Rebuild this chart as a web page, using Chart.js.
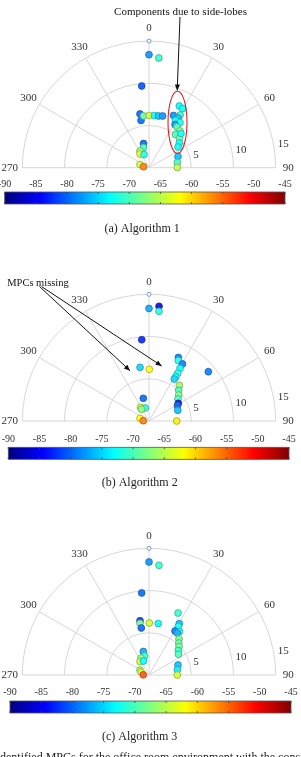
<!DOCTYPE html>
<html><head><meta charset="utf-8">
<script src="https://cdn.jsdelivr.net/npm/chart.js@4.4.0/dist/chart.umd.min.js"></script>
<style>
html,body{margin:0;padding:0;background:#fff;overflow:hidden;width:301px;height:757px;position:relative}
.panel{position:absolute;left:0;width:301px;height:253px}
#note{position:absolute;left:-4px;top:750px;font:12px "Liberation Serif",serif;white-space:nowrap;color:#222}
</style></head><body>
<div class="panel" style="top:0px"><canvas id="c1" width="301" height="253"></canvas></div>
<div class="panel" style="top:253px"><canvas id="c2" width="301" height="253"></canvas></div>
<div class="panel" style="top:507px"><canvas id="c3" width="301" height="253"></canvas></div>
<div id="note">Identified MPCs for the office room environment with the considered</div>
<script>
// ---- data (angle in degrees, range, received power in dBm) ----
const angleTicks = [270, 300, 330, 0, 30, 60, 90];
const rangeTicks = [5, 10, 15];
const colorTicks = [-90, -85, -80, -75, -70, -65, -60, -55, -50, -45];
const refAngle = [0];
const refRange = [15];

const alg1Angle = [0, 5.1, 354.9, 350.5, 350.4, 353.9, 0.3, 6.0, 10.4, 14.8, 347.2, 344.8, 331.7, 326.7, 339.3, 289.6, 280.3,
  26.2, 29.7, 25.1, 30.5, 30.3, 29.3, 34.4, 31.0, 34.5, 40.2, 38.6, 45.8, 43.1, 50.8, 54.5, 68.9, 79.6, 89.6];
const alg1Range = [13.38, 13.04, 9.71, 6.45, 5.67, 6.16, 6.18, 6.21, 6.22, 6.33, 2.94, 2.48, 2.25, 1.94, 1.67, 1.13, 0.66,
  8.14, 8.06, 6.83, 7.24, 6.81, 6.41, 6.49, 5.97, 5.85, 5.69, 5.03, 5.04, 5.54, 4.63, 4.22, 3.68, 3.41, 3.35];
const alg1Power = [-78, -71, -81, -80, -80, -69, -64, -73, -76, -78, -80, -71, -67, -63, -72, -64, -56,
  -73, -73, -78, -71, -76, -73, -72, -78, -70, -67, -70, -68, -73, -73, -73, -76, -70, -65];

const alg2Angle = [0, 5.0, 5.2, 354.9, 350.5, 0.3, 24.8, 25.8, 30.4, 30.5, 31.0, 31.1, 31.1, 50.3, 40.5, 44.0, 48.8, 52.8,
  58.9, 61.5, 69.6, 90, 345.9, 328.2, 344.1, 327.3, 286.7, 273];
const alg2Range = [13.32, 13.63, 13.04, 9.66, 6.44, 6.12, 8.28, 7.96, 7.83, 7.24, 6.59, 6.12, 5.80, 9.13, 5.53, 5.06, 4.67, 4.31,
  4.05, 3.84, 3.63, 3.28, 2.77, 1.91, 1.60, 1.65, 1.11, 0.68];
const alg2Power = [-77, -86, -72, -83, -75, -62, -79, -72, -79, -73, -72, -73, -75, -79, -66, -70, -68, -70,
  -85, -81, -76, -61, -80, -64, -72, -67, -62, -56];

const alg3Angle = [0, 5.2, 354.9, 350.6, 350.1, 350.7, 0.3, 10.2, 25.1, 30.5, 31.1, 30.6, 35.0, 34.0, 39.8, 42.9, 46.5, 50.1,
  54.9, 71.0, 79.6, 90, 346.4, 346.7, 334.8, 326.3, 338.6, 299.1, 290.6, 272];
const alg3Range = [13.38, 13.04, 9.75, 6.51, 6.21, 5.64, 6.16, 6.19, 8.10, 7.07, 6.71, 6.05, 6.29, 5.99, 5.55, 5.17, 4.90, 4.52,
  4.27, 3.63, 3.41, 3.35, 2.86, 2.31, 2.22, 1.92, 1.78, 1.22, 1.01, 0.68];
const alg3Power = [-78, -71, -80, -82, -68, -80, -64, -73, -71, -76, -73, -79, -73, -77, -68, -69, -68, -71,
  -70, -76, -74, -64, -77, -71, -67, -64, -73, -66, -64, -54];

const CB_MIN = colorTicks[0], CB_MAX = colorTicks[colorTicks.length - 1];
const R_MAX = rangeTicks[rangeTicks.length - 1];
const SERIF = '"Liberation Serif", "Times New Roman", serif';

function jet(p) {
  const t = (p - CB_MIN) / (CB_MAX - CB_MIN);
  const f = v => Math.max(0, Math.min(1, v));
  return [f(Math.min(4 * t - 1.5, -4 * t + 4.5)), f(Math.min(4 * t - 0.5, -4 * t + 3.5)), f(Math.min(4 * t + 0.5, -4 * t + 2.5))];
}
function fillCol(p) { const c = jet(p); return 'rgb(' + c.map(v => Math.round(255 * (v * 0.88 + 0.12))).join(',') + ')'; }
function edgeCol(p) { const c = jet(p); return 'rgb(' + c.map(v => Math.round(255 * v * 0.55 + 30)).join(',') + ')'; }
function toXY(a, r) { const t = a * Math.PI / 180; return { x: r * Math.sin(t), y: r * Math.cos(t) }; }

function arrow(ctx, x0, y0, x1, y1) {
  ctx.beginPath(); ctx.moveTo(x0, y0); ctx.lineTo(x1, y1); ctx.stroke();
  const ang = Math.atan2(y1 - y0, x1 - x0), L = 6, W = 2.6;
  ctx.beginPath();
  ctx.moveTo(x1, y1);
  ctx.lineTo(x1 - L * Math.cos(ang) + W * Math.sin(ang), y1 - L * Math.sin(ang) - W * Math.cos(ang));
  ctx.lineTo(x1 - L * Math.cos(ang) - W * Math.sin(ang), y1 - L * Math.sin(ang) + W * Math.cos(ang));
  ctx.closePath(); ctx.fill();
}

const decor = {
  id: 'decor',
  beforeDatasetsDraw(chart, args, o) {
    const ctx = chart.ctx, xs = chart.scales.x, ys = chart.scales.y;
    const cx = xs.getPixelForValue(0), cy = ys.getPixelForValue(0);
    const R = v => xs.getPixelForValue(v) - cx;
    ctx.save();
    ctx.strokeStyle = '#d6d6d6'; ctx.lineWidth = 1;
    rangeTicks.forEach(v => { ctx.beginPath(); ctx.arc(cx, cy, R(v), Math.PI, 2 * Math.PI); ctx.stroke(); });
    angleTicks.forEach(a => {
      const t = a * Math.PI / 180;
      ctx.beginPath(); ctx.moveTo(cx, cy);
      ctx.lineTo(cx + R(R_MAX) * Math.sin(t), cy - R(R_MAX) * Math.cos(t)); ctx.stroke();
    });
    ctx.fillStyle = '#333'; ctx.font = '11px ' + SERIF;
    ctx.textAlign = 'center'; ctx.textBaseline = 'middle';
    angleTicks.forEach(a => {
      const t = a * Math.PI / 180, rr = R(R_MAX) + 12.5;
      ctx.fillText(String(a), cx + rr * Math.sin(t), cy - rr * Math.cos(t));
    });
    ctx.textAlign = 'left';
    rangeTicks.forEach(v => { ctx.fillText(String(v), cx + R(v) + 2, cy - (7 + 0.13 * R(v))); });
    ctx.restore();
  },
  afterDatasetsDraw(chart, args, o) {
    const ctx = chart.ctx;
    ctx.save();
    // annotations
    ctx.strokeStyle = '#111'; ctx.fillStyle = '#111'; ctx.lineWidth = 1;
    (o.arrows || []).forEach(a => arrow(ctx, a[0], a[1], a[2], a[3]));
    (o.texts || []).forEach(t => {
      ctx.font = t.size + 'px ' + SERIF; ctx.textAlign = 'center'; ctx.textBaseline = 'middle';
      ctx.fillText(t.text, t.x, t.y);
    });
    if (o.ellipse) {
      const e = o.ellipse;
      ctx.strokeStyle = '#e02020'; ctx.lineWidth = 1.1;
      ctx.beginPath(); ctx.ellipse(e.x, e.y, e.rx, e.ry, 0, 0, 2 * Math.PI); ctx.stroke();
    }
    // colorbar
    const cb = o.cb, w = cb.x1 - cb.x0;
    const g = ctx.createLinearGradient(cb.x0, 0, cb.x1, 0);
    for (let i = 0; i <= 40; i++) {
      const p = CB_MIN + (CB_MAX - CB_MIN) * i / 40, c = jet(p);
      g.addColorStop(i / 40, 'rgb(' + c.map(v => Math.round(255 * v)).join(',') + ')');
    }
    ctx.fillStyle = g; ctx.fillRect(cb.x0, cb.y, w, cb.h);
    ctx.strokeStyle = '#555'; ctx.lineWidth = 0.8; ctx.strokeRect(cb.x0, cb.y, w, cb.h);
    ctx.fillStyle = '#333'; ctx.font = '10px ' + SERIF; ctx.textAlign = 'center'; ctx.textBaseline = 'middle';
    colorTicks.forEach(v => {
      const x = cb.x0 + (v - CB_MIN) / (CB_MAX - CB_MIN) * w;
      ctx.fillText(String(v), x, cb.labelY);
      ctx.beginPath(); ctx.moveTo(x, cb.y); ctx.lineTo(x, cb.y + 2); ctx.moveTo(x, cb.y + cb.h); ctx.lineTo(x, cb.y + cb.h - 2);
      ctx.strokeStyle = '#444'; ctx.stroke();
    });
    // caption
    ctx.fillStyle = '#222'; ctx.font = '12px ' + SERIF;
    ctx.fillText(o.caption, o.capX, o.capY);
    ctx.restore();
  }
};

const panels = [
  { id: 'c1', a: alg1Angle, r: alg1Range, p: alg1Power, pad: { left: 22.3, right: 25.3, top: 41, bottom: 85.3 },
    caption: '(a) Algorithm 1', capX: 142.2, capY: 229, cb: { x0: 4.7, x1: 285, y: 192, h: 12, labelY: 184 },
    texts: [{ text: 'Components due to side-lobes', x: 180.5, y: 12.5, size: 11 }],
    arrows: [[180, 17, 177.2, 90.5]],
    ellipse: { x: 177.5, y: 122.3, rx: 9.5, ry: 31 } },
  { id: 'c2', a: alg2Angle, r: alg2Range, p: alg2Power, pad: { left: 22.3, right: 25.3, top: 41.3, bottom: 85 },
    caption: '(b) Algorithm 2', capX: 139.7, capY: 230, cb: { x0: 8.3, x1: 289, y: 194.3, h: 12, labelY: 186 },
    texts: [{ text: 'MPCs missing', x: 38, y: 30, size: 10.5 }],
    arrows: [[39.5, 33.5, 130, 117.7], [41.5, 33.5, 161.7, 113]] },
  { id: 'c3', a: alg3Angle, r: alg3Range, p: alg3Power, pad: { left: 22.3, right: 25.3, top: 41.3, bottom: 85 },
    caption: '(c) Algorithm 3', capX: 139.7, capY: 229.7, cb: { x0: 10, x1: 291, y: 194, h: 12, labelY: 185.7 },
    texts: [], arrows: [] }
];

panels.forEach(P => {
  new Chart(document.getElementById(P.id), {
    type: 'scatter',
    data: {
      datasets: [
        {
          data: P.a.map((a, i) => toXY(a, P.r[i])),
          pointRadius: 3.4,
          pointBackgroundColor: P.p.map(fillCol),
          pointBorderColor: P.p.map(edgeCol),
          pointBorderWidth: 0.8,
          clip: false
        },
        {
          data: refAngle.map((a, i) => toXY(a, refRange[i])),
          pointRadius: 2,
          pointBackgroundColor: '#ffffff',
          pointBorderColor: '#6c9fd0',
          pointBorderWidth: 1,
          clip: false
        }
      ]
    },
    options: {
      responsive: false, animation: false, devicePixelRatio: 1, events: [],
      layout: { padding: P.pad },
      plugins: {
        legend: { display: false }, tooltip: { enabled: false },
        decor: { caption: P.caption, capX: P.capX, capY: P.capY, cb: P.cb, texts: P.texts, arrows: P.arrows, ellipse: P.ellipse }
      },
      scales: {
        x: { type: 'linear', min: -R_MAX, max: R_MAX, display: false },
        y: { type: 'linear', min: 0, max: R_MAX, display: false }
      }
    },
    plugins: [decor]
  });
});
</script>
</body></html>
